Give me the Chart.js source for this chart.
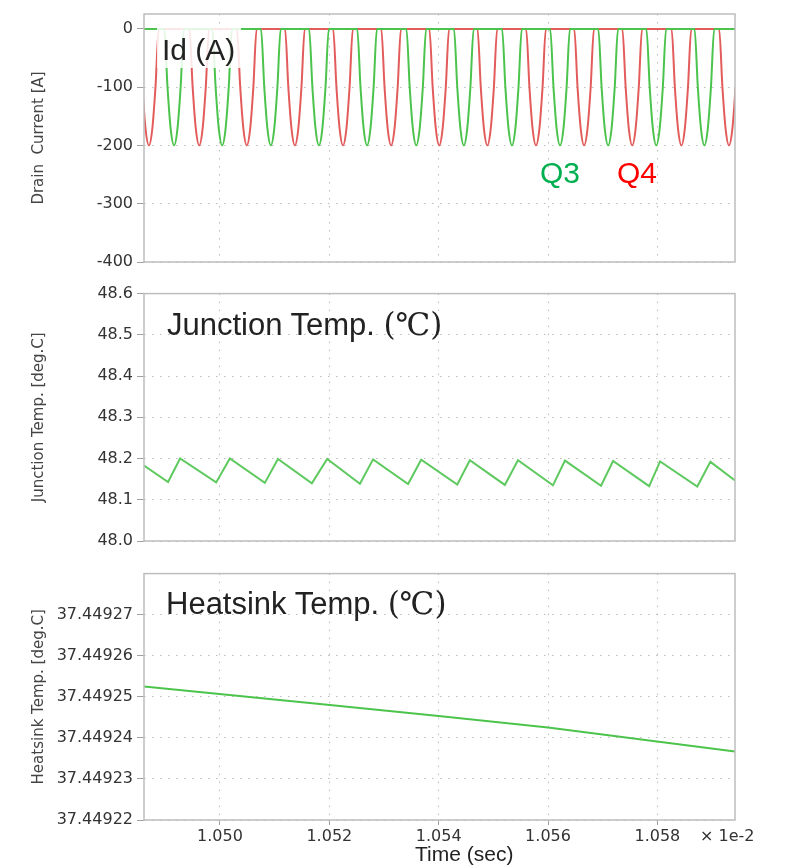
<!DOCTYPE html>
<html><head><meta charset="utf-8">
<script src="https://cdn.jsdelivr.net/npm/chart.js@4.4.0/dist/chart.umd.min.js"></script>
<style>
html,body{margin:0;padding:0;background:#fff;}
#wrap{position:relative;width:786px;height:867px;overflow:hidden;background:#fff;}
canvas{position:absolute;left:0;}
.lbl{position:absolute;white-space:nowrap;font-family:'Liberation Sans',Arial,sans-serif;line-height:1;color:#222;}
.srf{font-family:'DejaVu Serif','Liberation Serif',serif;}
</style></head><body>
<div id="wrap">
<canvas id="c1" width="786" height="280" style="top:0px"></canvas>
<canvas id="c2" width="786" height="280" style="top:280px"></canvas>
<canvas id="c3" width="786" height="307" style="top:560px"></canvas>
<div style="position:absolute;left:157px;top:28px;width:84px;height:40px;background:rgba(255,255,255,0.85);"></div>
<div class="lbl" style="left:162px;top:35px;font-size:30px;">Id (A)</div>
<div class="lbl" style="left:540px;top:158px;font-size:30px;color:#00b050;">Q3</div>
<div class="lbl" style="left:617px;top:158px;font-size:30px;color:#ff0000;">Q4</div>
<div class="lbl" style="left:167px;top:309px;font-size:31px;">Junction Temp. <span class="srf">(℃)</span></div>
<div class="lbl" style="left:166px;top:588px;font-size:31px;">Heatsink Temp. <span class="srf">(℃)</span></div>
<div class="lbl" style="left:700px;top:828px;font-size:16px;font-family:'DejaVu Sans',sans-serif;color:#333;">× 1e-2</div>
<div class="lbl" style="left:415px;top:843px;font-size:21px;">Time (sec)</div>
</div>
<script>
// ---- data (time in units of 1e-2 s) ----
const xMin = 1.04861, xMax = 1.05942;
const xTicks = [1.050, 1.052, 1.054, 1.056, 1.058];

const idTicks = [-400, -300, -200, -100, 0];
const q4Centers = [1.04870, 1.04962, 1.05049, 1.05137, 1.05225, 1.05313, 1.05401, 1.05489, 1.05578, 1.05666, 1.05754, 1.05844, 1.05931];
const q3Centers = [1.04916, 1.05004, 1.05093, 1.05181, 1.05269, 1.05359, 1.05446, 1.05534, 1.05622, 1.05710, 1.05798, 1.05886];
const pulseOffsets = [-0.000180, -0.000120, -0.000060, 0, 0.000060, 0.000120, 0.000180];
const pulseShape = [0, -100, -173, -200, -173, -100, 0];

const tjTicks = [48.0, 48.1, 48.2, 48.3, 48.4, 48.5, 48.6];
const tjMinTimes = [1.04905, 1.04993, 1.05082, 1.05168, 1.05256, 1.05344, 1.05434, 1.05521, 1.05609, 1.05697, 1.05785, 1.05873];
const tjMinValues = [48.143, 48.142, 48.141, 48.140, 48.139, 48.138, 48.137, 48.136, 48.135, 48.134, 48.133, 48.132];
const tjPeakTimes = [1.04927, 1.05018, 1.05106, 1.05196, 1.05280, 1.05368, 1.05457, 1.05545, 1.05631, 1.05719, 1.05805, 1.05897];
const tjPeakValues = [48.200, 48.200, 48.199, 48.199, 48.198, 48.197, 48.196, 48.196, 48.195, 48.194, 48.193, 48.192];
const tjStart = [1.04861, 48.183];
const tjEnd = [1.05942, 48.147];

const hsTicks = [37.44922, 37.44923, 37.44924, 37.44925, 37.44926, 37.44927];
const hsTimes = [1.04861, 1.05201, 1.05400, 1.05600, 1.05942];
const hsValues = [37.4492525, 37.4492480, 37.4492453, 37.4492425, 37.4492367];

// ---- build tables ----
function pulses(centers) {
  const pts = [{x: 1.0480, y: 0}];
  centers.forEach(c => pulseOffsets.forEach((o, i) => pts.push({x: c + o, y: pulseShape[i]})));
  pts.push({x: 1.0600, y: 0});
  return pts;
}
const tjData = [{x: tjStart[0], y: tjStart[1]}];
tjMinTimes.forEach((t, i) => {
  tjData.push({x: t, y: tjMinValues[i]});
  tjData.push({x: tjPeakTimes[i], y: tjPeakValues[i]});
});
tjData.push({x: tjEnd[0], y: tjEnd[1]});
const hsData = hsTimes.map((t, i) => ({x: t, y: hsValues[i]}));

// ---- chart helpers ----
Chart.defaults.font.family = "'DejaVu Sans', sans-serif";
const frame = {id: 'frame', afterDatasetsDraw(c) {
  const {ctx, chartArea: a} = c;
  ctx.save(); ctx.strokeStyle = '#bdbdbd'; ctx.lineWidth = 1.5;
  ctx.strokeRect(a.left, a.top, a.right - a.left, a.bottom - a.top); ctx.restore();
}};
const gridStyle = {color: '#bdbdbd', lineWidth: 1, tickColor: '#a0a0a0', tickBorderDash: [], tickWidth: 1};
const borderStyle = {display: false, dash: [1.5, 6.5]};

function makeChart(id, datasets, o) {
  return new Chart(document.getElementById(id), {
    type: 'line',
    data: {datasets},
    options: {
      responsive: false, animation: false, events: [],
      layout: {padding: {left: 30, right: 51, top: o.top, bottom: 0}},
      plugins: {legend: {display: false}, tooltip: {enabled: false}},
      elements: {point: {radius: 0}, line: {tension: 0, borderWidth: 2}},
      scales: {
        x: {
          type: 'linear', min: xMin, max: xMax,
          afterBuildTicks: s => { s.ticks = xTicks.map(v => ({value: v})); },
          afterFit: s => { s.height = o.xh; },
          ticks: {display: o.xlabels, autoSkip: false, maxRotation: 0, padding: 2,
                  font: {size: 16}, color: '#333', callback: v => v.toFixed(3)},
          grid: Object.assign({}, gridStyle, {drawTicks: o.xlabels, tickLength: 5}),
          border: borderStyle
        },
        y: {
          type: 'linear', min: o.min, max: o.max,
          afterBuildTicks: s => { s.ticks = o.ticks.map(v => ({value: v})); },
          afterFit: s => { s.width = 114; },
          ticks: {autoSkip: false, padding: 4, font: {size: 16}, color: '#333', callback: o.fmt},
          grid: Object.assign({}, gridStyle, {tickLength: 7}),
          border: borderStyle,
          title: {display: true, text: o.title, color: '#444', font: {size: 15}, padding: {top: 0, bottom: 0}}
        }
      }
    },
    plugins: [frame]
  });
}

makeChart('c1', [
  {data: pulses(q3Centers), borderColor: '#4cc34c', cubicInterpolationMode: 'monotone'},
  {data: pulses(q4Centers), borderColor: '#e35c5c', cubicInterpolationMode: 'monotone'}
], {top: 14, xh: 18, xlabels: false, min: -400, max: 25.7, ticks: idTicks, fmt: v => String(v), title: 'Drain  Current [A]'});

makeChart('c2', [
  {data: tjData, borderColor: '#5ec95e'}
], {top: 12, xh: 19, xlabels: false, min: 48.0, max: 48.6, ticks: tjTicks, fmt: v => v.toFixed(1), title: 'Junction Temp. [deg.C]'});

makeChart('c3', [
  {data: hsData, borderColor: '#4cc44c'}
], {top: 11, xh: 47, xlabels: true, min: 37.44922, max: 37.44928, ticks: hsTicks, fmt: v => v.toFixed(5), title: 'Heatsink Temp. [deg.C]'});
</script>
</body></html>
